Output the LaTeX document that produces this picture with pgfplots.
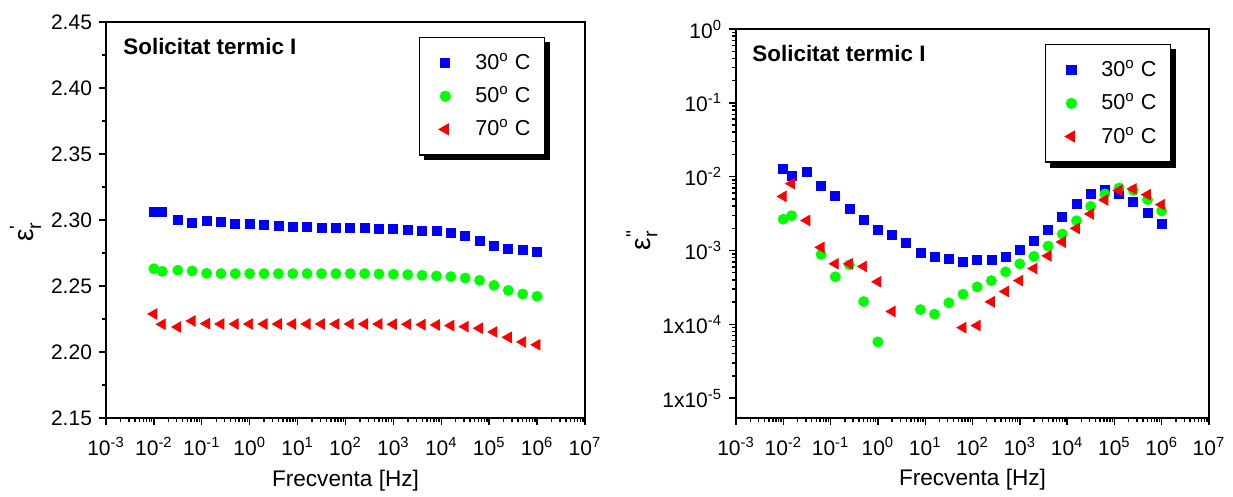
\documentclass[border=0pt]{standalone}
\usepackage{fontspec}
\setmainfont{Liberation Sans}
\usepackage{amsmath}
\usepackage{pgfplots}
\pgfplotsset{compat=1.18}
\usetikzlibrary{backgrounds}

\begin{document}
\begin{tikzpicture}
\useasboundingbox (0,0) rectangle (616.5pt,-248.5pt);

% epsilon' (left)
\begin{axis}[
  scale only axis,
  at={(53pt,-209pt)}, width=239.5pt, height=198pt,
  xmode=log, xmin=1e-3, xmax=1e7,
  xtick={1e-3,1e-2,1e-1,1,1e1,1e2,1e3,1e4,1e5,1e6,1e7},
  xticklabels={10\textsuperscript{-3},10\textsuperscript{-2},10\textsuperscript{-1},10\textsuperscript{0},10\textsuperscript{1},10\textsuperscript{2},10\textsuperscript{3},10\textsuperscript{4},10\textsuperscript{5},10\textsuperscript{6},10\textsuperscript{7}},
  tick align=outside, xtick pos=left, ytick pos=left,
  major tick length=3.5pt, minor tick length=1.8pt,
  axis line style={black, line width=1pt},
  every tick/.style={black, line width=0.7pt},
  tick label style={font=\fontsize{10.5}{12}\selectfont},
  xticklabel style={yshift=-2.5pt},
  label style={font=\fontsize{11.3}{13}\selectfont},
  xlabel={Frecventa [Hz]},
  legend cell align=left,
  legend style={name=legL, at={(0.653,0.962)}, anchor=north west, draw=black, line width=0.6pt,
    fill=white, font=\fontsize{10.8}{12}\selectfont, row sep=3pt, column sep=9pt,
    inner xsep=5pt, inner ysep=6pt},
  ymin=2.15, ymax=2.45, ytick={2.15,2.20,...,2.45}, minor y tick num=1,
  yticklabel style={/pgf/number format/.cd, fixed, fixed zerofill, precision=2, assume math mode=true},
  ylabel={$\text{ε}^{\text{\textquotesingle}}_{\text{r}}$},
  xlabel style={at={(axis description cs:0.5,-0.157)}, anchor=center},
  ylabel style={at={(axis description cs:-0.168,0.47)}, anchor=center, font=\fontsize{14}{16}\selectfont},
]
\addplot[only marks, mark=square*, mark size=2.25pt, color=blue,
  legend image code/.code={\path[draw=none] (0pt,0pt) (12pt,0pt); \draw[only marks, blue, mark=square*, mark size=2.25pt] plot coordinates {(8pt,0pt)};}] coordinates {
(0.01,2.3063)(0.015,2.3063)(0.0316,2.2997)(0.0631,2.298)(0.126,2.2995)(0.251,2.2985)(0.501,2.297)
(1,2.2967)(2,2.296)(3.98,2.2957)(7.94,2.295)(15.8,2.2947)(31.6,2.2942)(63.1,2.294)(126,2.2937)
(251,2.2937)(501,2.2932)(1000,2.293)(1995,2.2924)(3981,2.2919)(7943,2.2914)(15849,2.2904)
(31623,2.2879)(63096,2.2843)(125893,2.2805)(251189,2.2783)(501187,2.277)(1000000,2.276)};
\addlegendentry{30\textsuperscript{o} C}
\addplot[only marks, mark=*, mark size=2.5pt, color=green,
  legend image code/.code={\path[draw=none] (0pt,0pt) (12pt,0pt); \draw[only marks, green, mark=*, mark size=2.5pt] plot coordinates {(8pt,0pt)};}] coordinates {
(0.01,2.2631)(0.015,2.2611)(0.0316,2.2619)(0.0631,2.2614)(0.126,2.2596)(0.251,2.2594)(0.501,2.2594)
(1,2.2594)(2,2.2594)(3.98,2.2594)(7.94,2.2594)(15.8,2.2594)(31.6,2.2594)(63.1,2.2594)(126,2.2594)
(251,2.2594)(501,2.2591)(1000,2.2589)(1995,2.2586)(3981,2.2581)(7943,2.2576)(15849,2.2571)
(31623,2.2561)(63096,2.2543)(125893,2.2505)(251189,2.2467)(501187,2.2439)(1000000,2.2422)};
\addlegendentry{50\textsuperscript{o} C}
\addplot[only marks, mark=triangle*, mark size=3pt, color=red, mark options={rotate=90},
  legend image code/.code={\path[draw=none] (0pt,0pt) (12pt,0pt); \draw[only marks, red, mark=triangle*, mark size=3pt, mark options={rotate=90}] plot coordinates {(8pt,0pt)};}] coordinates {
(0.01,2.2288)(0.015,2.221)(0.0316,2.2189)(0.0631,2.2235)(0.126,2.2215)(0.251,2.2212)(0.501,2.2212)
(1,2.2212)(2,2.2212)(3.98,2.2212)(7.94,2.2212)(15.8,2.2212)(31.6,2.2212)(63.1,2.2212)(126,2.2212)
(251,2.2212)(501,2.2212)(1000,2.221)(1995,2.221)(3981,2.2207)(7943,2.2205)(15849,2.22)
(31623,2.2192)(63096,2.218)(125893,2.2152)(251189,2.2111)(501187,2.2076)(1000000,2.2055)};
\addlegendentry{70\textsuperscript{o} C}
\node[anchor=west, inner sep=0pt, font=\bfseries\fontsize{11.2}{13}\selectfont] at (rel axis cs:0.0355,0.937) {Solicitat termic I};
\end{axis}

% epsilon'' (right)
\begin{axis}[
  scale only axis,
  at={(368pt,-209pt)}, width=236.5pt, height=194.5pt,
  xmode=log, xmin=1e-3, xmax=1e7,
  xtick={1e-3,1e-2,1e-1,1,1e1,1e2,1e3,1e4,1e5,1e6,1e7},
  xticklabels={10\textsuperscript{-3},10\textsuperscript{-2},10\textsuperscript{-1},10\textsuperscript{0},10\textsuperscript{1},10\textsuperscript{2},10\textsuperscript{3},10\textsuperscript{4},10\textsuperscript{5},10\textsuperscript{6},10\textsuperscript{7}},
  tick align=outside, xtick pos=left, ytick pos=left,
  major tick length=3.5pt, minor tick length=1.8pt,
  axis line style={black, line width=1pt},
  every tick/.style={black, line width=0.7pt},
  tick label style={font=\fontsize{10.5}{12}\selectfont},
  xticklabel style={yshift=-2.5pt},
  label style={font=\fontsize{11.3}{13}\selectfont},
  xlabel={Frecventa [Hz]},
  legend cell align=left,
  legend style={name=legR, at={(0.653,0.961)}, anchor=north west, draw=black, line width=0.6pt,
    fill=white, font=\fontsize{10.8}{12}\selectfont, row sep=3pt, column sep=9pt,
    inner xsep=5pt, inner ysep=6pt},
  ymode=log, ymin=5.37e-6, ymax=1,
  ytick={1e-5,1e-4,1e-3,1e-2,1e-1,1},
  yticklabels={1x10\textsuperscript{-5},1x10\textsuperscript{-4},10\textsuperscript{-3},10\textsuperscript{-2},10\textsuperscript{-1},10\textsuperscript{0}},
  ylabel={$\text{ε}^{\text{\textquotedbl}}_{\text{r}}$},
  xlabel style={at={(axis description cs:0.5,-0.159)}, anchor=center},
  ylabel style={at={(axis description cs:-0.199,0.458)}, anchor=center, font=\fontsize{14}{16}\selectfont},
]
\addplot[only marks, mark=square*, mark size=2.25pt, color=blue,
  legend image code/.code={\path[draw=none] (0pt,0pt) (12pt,0pt); \draw[only marks, blue, mark=square*, mark size=2.25pt] plot coordinates {(8pt,0pt)};}] coordinates {
(0.01,0.01285)(0.015,0.01033)(0.0316,0.01159)(0.0631,0.0074)(0.126,0.00541)(0.251,0.00365)(0.501,0.00261)
(1,0.00189)(2,0.0016)(3.98,0.00126)(7.94,0.00094)(15.8,0.00082)(31.6,0.00078)(63.1,0.00071)(126,0.00074)
(251,0.000755)(501,0.00083)(1000,0.00102)(1995,0.00136)(3981,0.00191)(7943,0.00284)(15849,0.00426)
(31623,0.00582)(63096,0.00652)(125893,0.00582)(251189,0.00453)(501187,0.00322)(1000000,0.0023)};
\addlegendentry{30\textsuperscript{o} C}
\addplot[only marks, mark=*, mark size=2.5pt, color=green,
  legend image code/.code={\path[draw=none] (0pt,0pt) (12pt,0pt); \draw[only marks, green, mark=*, mark size=2.5pt] plot coordinates {(8pt,0pt)};}] coordinates {
(0.01,0.00265)(0.015,0.00296)(0.0631,0.000883)(0.126,0.00044)(0.251,0.000638)(0.501,0.000203)
(1,5.77e-5)(7.94,0.000158)(15.8,0.000137)(31.6,0.000195)(63.1,0.000255)(126,0.00032)
(251,0.00039)(501,0.000513)(1000,0.000659)(1995,0.00083)(3981,0.001146)(7943,0.001667)(15849,0.00253)
(31623,0.00395)(63096,0.00582)(125893,0.00703)(251189,0.00652)(501187,0.00488)(1000000,0.00343)};
\addlegendentry{50\textsuperscript{o} C}
\addplot[only marks, mark=triangle*, mark size=3pt, color=red, mark options={rotate=90},
  legend image code/.code={\path[draw=none] (0pt,0pt) (12pt,0pt); \draw[only marks, red, mark=triangle*, mark size=3pt, mark options={rotate=90}] plot coordinates {(8pt,0pt)};}] coordinates {
(0.01,0.0054)(0.015,0.00803)(0.0316,0.00255)(0.0631,0.0011)(0.126,0.000659)(0.251,0.000659)(0.501,0.000607)
(1,0.000376)(2,0.000149)(63.1,9.0e-5)(126,9.6e-5)
(251,0.000201)(501,0.000278)(1000,0.00039)(1995,0.000569)(3981,0.000845)(7943,0.0013)(15849,0.00199)
(31623,0.00312)(63096,0.00483)(125893,0.00652)(251189,0.00681)(501187,0.0057)(1000000,0.00417)};
\addlegendentry{70\textsuperscript{o} C}
\node[anchor=west, inner sep=0pt, font=\bfseries\fontsize{11.2}{13}\selectfont] at (rel axis cs:0.034,0.938) {Solicitat termic I};
\end{axis}

\begin{pgfonlayer}{background}
\foreach \L in {legL,legR}
  \fill[black] ([xshift=2.5pt,yshift=-2.5pt]\L.south west) rectangle ([xshift=2.5pt,yshift=-2.5pt]\L.north east);
\end{pgfonlayer}
\end{tikzpicture}
\end{document}
